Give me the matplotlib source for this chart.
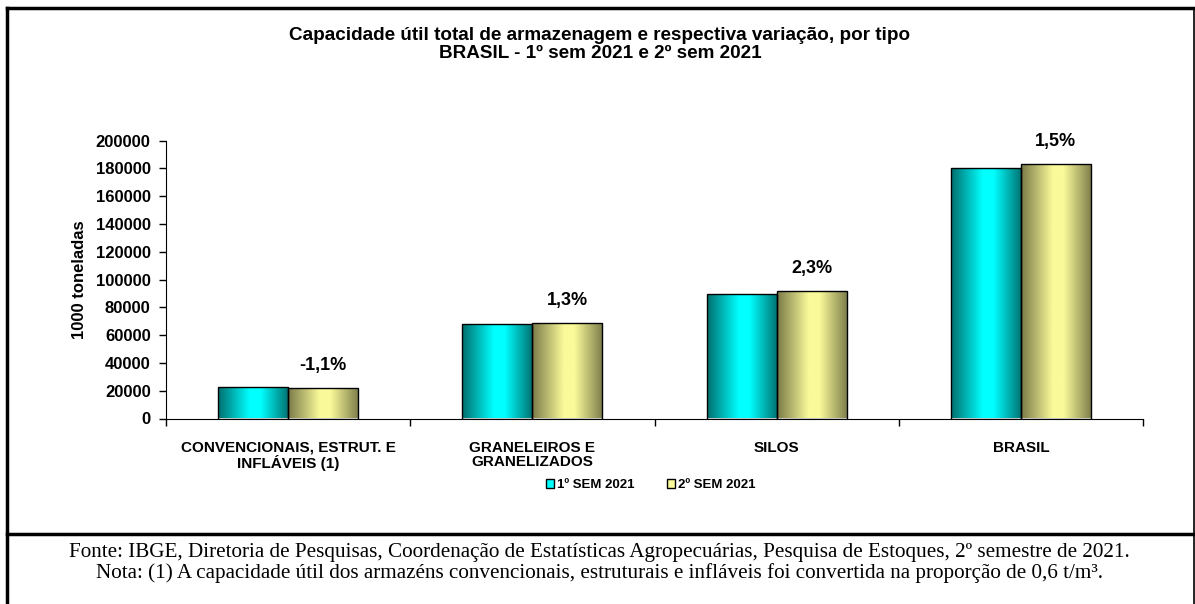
import matplotlib
matplotlib.use('Agg')
import matplotlib.pyplot as plt
import numpy as np
from matplotlib.colors import LinearSegmentedColormap
from matplotlib.patches import Patch
from matplotlib.lines import Line2D

plt.rcParams['font.family'] = ['Liberation Sans', 'DejaVu Sans']

# Dados (1000 toneladas)
categorias = ['CONVENCIONAIS, ESTRUT. E\nINFLÁVEIS (1)', 'GRANELEIROS E\nGRANELIZADOS',
              'SILOS', 'BRASIL']
sem1_2021 = [22400, 67800, 89700, 180300]
sem2_2021 = [22150, 68700, 91800, 183000]
variacao = ['-1,1%', '1,3%', '2,3%', '1,5%']
series = ['1º SEM 2021', '2º SEM 2021']
yticks = [0, 20000, 40000, 60000, 80000, 100000, 120000, 140000, 160000, 180000, 200000]

titulo1 = 'Capacidade útil total de armazenagem e respectiva variação, por tipo'
titulo2 = 'BRASIL - 1º sem 2021 e 2º sem 2021'
fonte = ('Fonte: IBGE, Diretoria de Pesquisas, Coordenação de Estatísticas Agropecuárias, '
         'Pesquisa de Estoques, 2º semestre de 2021.')
nota = ('Nota: (1) A capacidade útil dos armazéns convencionais, estruturais e infláveis '
        'foi convertida na proporção de 0,6 t/m³.')

# gradientes tipo Excel
cmap_ciano = LinearSegmentedColormap.from_list(
    'ciano', [(0, '#006e6e'), (0.45, '#00ffff'), (0.6, '#00ffff'), (1, '#007070')])
cmap_amarelo = LinearSegmentedColormap.from_list(
    'amarelo', [(0, '#7a7a48'), (0.45, '#fafa9a'), (0.6, '#fafa9a'), (1, '#7c7c4a')])

fig = plt.figure(figsize=(11.95, 6.04), dpi=100)
ax = fig.add_axes([166 / 1195, 1 - 418.5 / 604, (1143 - 166) / 1195, (418.5 - 140.7) / 604])

x = np.arange(len(categorias))
w = 0.287
b1 = ax.bar(x - w / 2, sem1_2021, w, facecolor='none', edgecolor='black', linewidth=1, zorder=3)
b2 = ax.bar(x + w / 2, sem2_2021, w, facecolor='none', edgecolor='black', linewidth=1, zorder=3)

grad = np.linspace(0, 1, 256).reshape(1, -1)
for barras, cmap in ((b1, cmap_ciano), (b2, cmap_amarelo)):
    for p in barras:
        x0, y0 = p.get_x(), p.get_y()
        im = ax.imshow(grad, cmap=cmap, aspect='auto', zorder=2,
                       extent=(x0, x0 + p.get_width(), y0, y0 + p.get_height()))
        im.set_clip_path(p)

for i, (v, lab) in enumerate(zip(sem2_2021, variacao)):
    ax.annotate(lab, (x[i] + w / 2, v), xytext=(0, 10), textcoords='offset points',
                ha='center', va='bottom', fontsize=13, fontweight='bold')

ax.set_xlim(-0.5, len(categorias) - 0.5)
ax.set_ylim(0, 200000)
ax.set_yticks(yticks)
ax.set_yticklabels([str(t) for t in yticks], fontsize=12, fontweight='bold')
ax.set_xticks(np.arange(len(categorias) + 1) - 0.5)
ax.set_xticklabels([])
ax.set_xticks(x, minor=True)
ax.set_xticklabels(categorias, minor=True, fontsize=11, fontweight='bold', va='top',
                   linespacing=1.0)
ax.tick_params(axis='x', which='minor', length=0, pad=16)
ax.tick_params(axis='x', which='major', length=5, direction='out', width=1)
ax.tick_params(axis='y', length=5, direction='out', width=1, pad=6)
for s in ('top', 'right'):
    ax.spines[s].set_visible(False)
ax.set_ylabel('1000 toneladas', fontsize=12, fontweight='bold', labelpad=6)

fig.text(600 / 1195, 1 - 35 / 604, titulo1, ha='center', va='center', fontsize=13.6,
         fontweight='bold')
fig.text(600 / 1195, 1 - 53 / 604, titulo2, ha='center', va='center', fontsize=13.6,
         fontweight='bold')

handles = [Patch(facecolor='#00ffff', edgecolor='black', label=series[0]),
           Patch(facecolor='#fafa9a', edgecolor='black', label=series[1])]
fig.legend(handles=handles, loc='center', bbox_to_anchor=(651 / 1195, 1 - 485 / 604),
           ncol=2, frameon=False, prop={'weight': 'bold', 'size': 9.5},
           handlelength=0.6, handleheight=0.6, handletextpad=0.2, columnspacing=2.5)

# molduras
fig.add_artist(Line2D([7 / 1195, 1194 / 1195], [1 - 8 / 604, 1 - 8 / 604], color='black', lw=2.5))
fig.add_artist(Line2D([7 / 1195, 7 / 1195], [0, 1 - 8 / 604], color='black', lw=2.5))
fig.add_artist(Line2D([1194 / 1195, 1194 / 1195], [0, 1 - 8 / 604], color='black', lw=1.2))
fig.add_artist(Line2D([7 / 1195, 1194 / 1195], [1 - 534 / 604, 1 - 534 / 604], color='black', lw=2.5))

serif = ['Liberation Serif', 'DejaVu Serif']
fig.text(599 / 1195, 1 - 552 / 604, fonte, ha='center', va='center', fontsize=15.2, family=serif)
fig.text(599 / 1195, 1 - 573 / 604, nota, ha='center', va='center', fontsize=15.2, family=serif)

fig.savefig('out.png', dpi=100)
